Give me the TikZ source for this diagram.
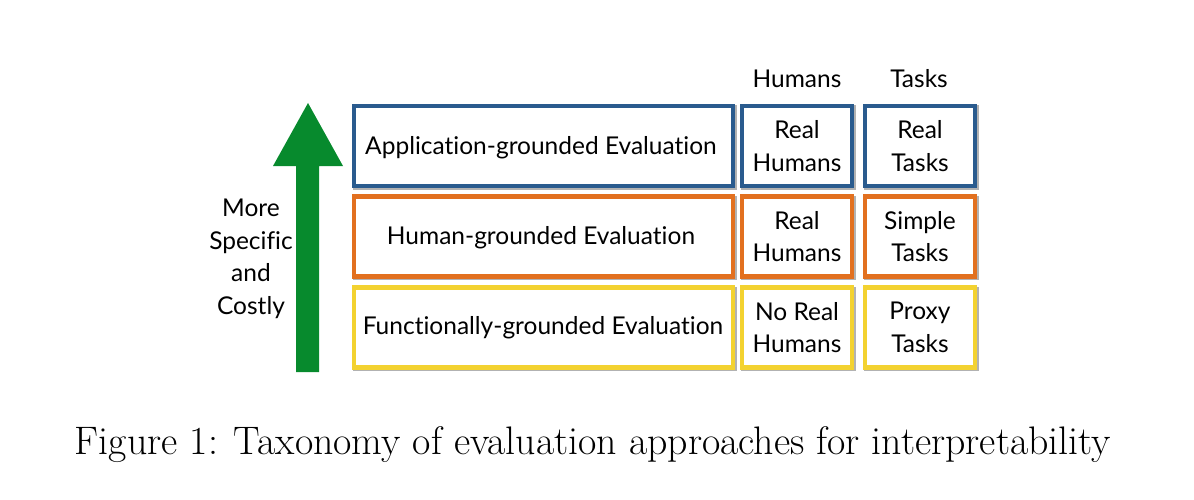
\documentclass[tikz,border=0pt]{standalone}
\usepackage{fontspec}
\newfontfamily\lato[Ligatures={NoCommon}]{Lato}
\begin{document}
\begin{tikzpicture}[x=1pt,y=-1pt]
\definecolor{cblue}{HTML}{2A5B8E}
\definecolor{corange}{HTML}{E2701F}
\definecolor{cyellow}{HTML}{F3D230}
\definecolor{cgreen}{HTML}{078A2D}
\tikzset{
  cell/.style={draw=#1, line width=4.5pt, fill=white, inner sep=0pt, align=center,
    font=\lato\fontsize{24.5}{32.5}\selectfont,
    preaction={draw=black!30, line width=4.5pt, transform canvas={shift={(1.5pt,-1.5pt)}}}},
  lbl/.style={font=\lato\fontsize{24.5}{32.5}\selectfont, align=center, inner sep=0pt},
  txt/.style={font=\lato\fontsize{24.5}{32.5}\selectfont, align=center, inner sep=0pt}
}
\useasboundingbox (0,0) rectangle (1194,500);
% arrow
\fill[cgreen] (296,372) -- (296,166) -- (273,166) -- (308,103) -- (343,166) -- (319,166) -- (319,372) -- cycle;
\node[lbl] (side) at (251,259) {More\\Specific\\and\\Costly};
% headers
\node[lbl] (hh) at (797,79) {Humans};
\node[lbl] (ht) at (919,79) {Tasks};
% row 1
\node[cell=cblue, minimum width=379pt, minimum height=80pt] (a1) at (543.5,146) {};
\node[txt] (a1t) at (541,148) {Application-grounded Evaluation};
\node[cell=cblue, minimum width=110pt, minimum height=80pt] (a2) at (797,146) {Real\\Humans};
\node[cell=cblue, minimum width=110pt, minimum height=80pt] (a3) at (920,146) {Real\\Tasks};
% row 2
\node[cell=corange, minimum width=379pt, minimum height=80pt] (b1) at (543.5,236.5) {};
\node[txt] (b1t) at (541,238) {Human-grounded Evaluation};
\node[cell=corange, minimum width=110pt, minimum height=80pt] (b2) at (797,236.5) {Real\\Humans};
\node[cell=corange, minimum width=110pt, minimum height=80pt] (b3) at (920,236.5) {Simple\\Tasks};
% row 3
\node[cell=cyellow, minimum width=379pt, minimum height=80pt] (c1) at (543.5,327.5) {};
\node[txt] (c1t) at (543,328) {Functionally-grounded Evaluation};
\node[cell=cyellow, minimum width=110pt, minimum height=80pt] (c2) at (797,327.5) {No Real\\Humans};
\node[cell=cyellow, minimum width=110pt, minimum height=80pt] (c3) at (920,327.5) {Proxy\\Tasks};
% caption
\node[font=\fontsize{39.8}{46}\selectfont, inner sep=0pt] (cap) at (593,445) {Figure 1: Taxonomy of evaluation approaches for interpretability};
\end{tikzpicture}
\end{document}
